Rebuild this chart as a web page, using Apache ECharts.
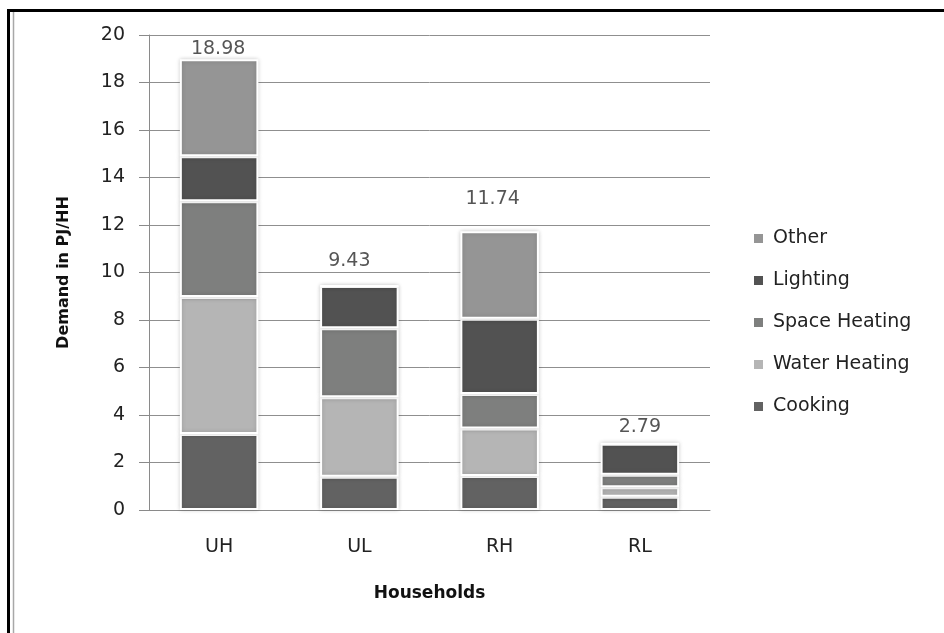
<!DOCTYPE html>
<html>
<head>
<meta charset="utf-8">
<title>Household energy demand</title>
<script src="https://cdn.jsdelivr.net/npm/echarts@6/dist/echarts.min.js"></script>
<style>
  html, body { margin: 0; padding: 0; background: #fff; }
  #chart { width: 944px; height: 633px; }
</style>
</head>
<body>
<div id="chart"></div>
<script>
// Household types on the category axis
const households = ['UH', 'UL', 'RH', 'RL'];

// Demand per end use (PJ/HH), stacked bottom to top
const cooking      = [3.20, 1.40, 1.43, 0.56];
const waterHeating = [5.77, 3.35, 2.00, 0.40];
const spaceHeating = [4.03, 2.90, 1.45, 0.52];
const lighting     = [1.90, 1.78, 3.17, 1.31];
const other        = [4.08, 0.00, 3.69, 0.00];

// Totals written above each column
const totals = [18.98, 9.43, 11.74, 2.79];

// Value axis ticks
const yTicks = { min: 0, max: 20, step: 2 };

const FONT = '"DejaVu Sans", "Noto Sans", sans-serif';

const palette = {
  Cooking: '#626262',
  'Water Heating': '#b5b5b5',
  'Space Heating': '#7e7f7e',
  Lighting: '#525252',
  Other: '#959595'
};

function stackSeries(name, values) {
  return {
    name: name,
    type: 'bar',
    stack: 'demand',
    barWidth: '56%',
    data: values,
    itemStyle: {
      color: palette[name],
      borderColor: '#ffffff',
      borderWidth: 2,
      shadowBlur: 4,
      shadowColor: 'rgba(0,0,0,0.18)'
    },
    emphasis: { disabled: true }
  };
}

// Small nudges so each total sits where it reads best
const totalLabelOffsets = [[-1, 0], [-10, -15], [-7, -22], [0, -7]];

const chart = echarts.init(document.getElementById('chart'), null, { renderer: 'canvas' });

chart.setOption({
  animation: false,
  backgroundColor: '#ffffff',
  grid: { left: 149, right: 234, top: 35, bottom: 123, containLabel: false },
  legend: {
    orient: 'vertical',
    left: 752,
    top: 229,
    padding: 0,
    itemWidth: 11,
    itemHeight: 11,
    itemGap: 23,
    icon: 'rect',
    data: ['Other', 'Lighting', 'Space Heating', 'Water Heating', 'Cooking'],
    textStyle: { fontFamily: FONT, fontSize: 19, color: '#222', padding: [0, 0, 0, 4] }
  },
  xAxis: {
    type: 'category',
    data: households,
    name: 'Households',
    nameLocation: 'middle',
    nameGap: 75,
    nameTextStyle: { fontFamily: FONT, fontSize: 17, fontWeight: 'bold', color: '#111' },
    axisLine: { lineStyle: { color: '#8a8a8a', width: 1 } },
    axisTick: { show: false },
    axisLabel: { fontFamily: FONT, fontSize: 19, color: '#222', margin: 28 },
    splitLine: { show: false }
  },
  yAxis: {
    type: 'value',
    min: yTicks.min,
    max: yTicks.max,
    interval: yTicks.step,
    name: 'Demand in PJ/HH',
    nameLocation: 'middle',
    nameGap: 77,
    nameRotate: 90,
    nameTextStyle: { fontFamily: FONT, fontSize: 16, fontWeight: 'bold', color: '#111' },
    axisLine: { show: true, lineStyle: { color: '#8a8a8a', width: 1 } },
    axisTick: { show: true, length: 10, lineStyle: { color: '#8a8a8a' } },
    axisLabel: { fontFamily: FONT, fontSize: 19, color: '#222', margin: 24 },
    splitLine: { show: true, lineStyle: { color: '#8f8f8f', width: 1 } }
  },
  series: [
    stackSeries('Cooking', cooking),
    stackSeries('Water Heating', waterHeating),
    stackSeries('Space Heating', spaceHeating),
    stackSeries('Lighting', lighting),
    stackSeries('Other', other),
    {
      name: 'Total',
      type: 'scatter',
      symbolSize: 1,
      itemStyle: { color: 'rgba(0,0,0,0)' },
      silent: true,
      z: 5,
      data: totals.map(function (t, i) {
        return {
          value: [households[i], t],
          label: { offset: totalLabelOffsets[i] }
        };
      }),
      label: {
        show: true,
        position: 'top',
        distance: 0,
        fontFamily: FONT,
        fontSize: 19,
        color: '#2a2a2a',
        formatter: function (p) { return p.value[1].toFixed(2); }
      }
    }
  ],
  graphic: [
    { type: 'line', shape: { x1: 7, y1: 10.5, x2: 944, y2: 10.5 }, style: { stroke: '#000', lineWidth: 3 } },
    { type: 'line', shape: { x1: 8.5, y1: 9, x2: 8.5, y2: 633 }, style: { stroke: '#000', lineWidth: 3 } },
    { type: 'line', shape: { x1: 13.5, y1: 12, x2: 13.5, y2: 633 }, style: { stroke: '#a8a8a8', lineWidth: 1.5 } }
  ]
});
</script>
</body>
</html>
